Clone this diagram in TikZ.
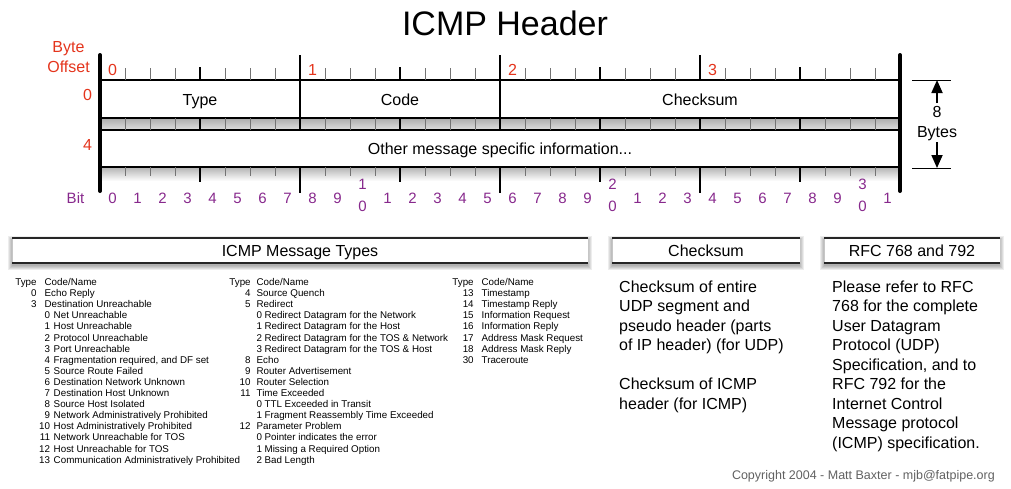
\documentclass[tikz,border=0pt]{standalone}
\usepackage{fontspec}
\setmainfont{Liberation Sans}
\usetikzlibrary{arrows.meta}
\definecolor{offred}{RGB}{228,52,28}
\definecolor{bitpurple}{RGB}{135,40,140}
\newcommand\fsz[2]{\fontsize{#1}{#2}\selectfont}
\newcommand\subA[1]{\makebox[5.5pt][r]{#1}\hspace{3.6pt}}
\newcommand\subB[1]{\makebox[5.45pt][r]{#1}\hspace{2.5pt}}
\begin{document}
\begin{tikzpicture}[x=1pt,y=-1pt,
  lbl/.style={inner sep=0pt, anchor=base},
  redlbl/.style={lbl, text=offred, font=\fsz{16}{20}},
  bitlbl/.style={lbl, text=bitpurple, font=\fsz{15}{18}},
  fieldlbl/.style={lbl, font=\fsz{16}{20}},
  tbl/.style={inner sep=0pt, anchor=base west, font=\fsz{9.8}{11.1}},
  rtext/.style={inner sep=0pt, anchor=base west, font=\fsz{16}{19.5}},
  thintick/.style={line width=0.9pt, draw=black!55},
  nibtick/.style={line width=1.6pt, draw=black},
  bytetick/.style={line width=2.2pt, draw=black},
  rowbox/.style={fill=white, draw=black, line width=1.3pt},
  bar/.style={line width=4pt, line cap=round},
  arr/.style={line width=1.8pt, -{Triangle[length=13pt,width=11pt]}},
  dimline/.style={line width=1pt}]
\useasboundingbox (0,0) rectangle (1011,488);

% title
\node[lbl, font=\fsz{34}{40}] (title) at (505,35) {ICMP Header};

% byte offset labels
\node[redlbl] (byteL) at (68.5,52.5) {Byte};
\node[redlbl] (offsetL) at (68.5,72) {Offset};
\node[redlbl] (off0) at (87.5,100) {0};
\node[redlbl] (off4) at (87.5,150) {4};
\foreach \b in {0,...,3} \node[redlbl] (byte\b) at (112.5+200*\b,75) {\b};

% bands
\shade[top color=gray!65, bottom color=gray!25] (100,118) rectangle (900,130);
\shade[top color=gray!60, bottom color=white] (100,167) rectangle (900,181);

% rows
\draw[rowbox] (100,80) rectangle (900,118);
\draw[rowbox] (100,130) rectangle (900,167);

% ticks
\foreach \i in {1,2,3,5,6,7,9,10,11,13,14,15,17,18,19,21,22,23,25,26,27,29,30,31} {
  \draw[thintick] (100+25*\i,68) -- (100+25*\i,80);
  \draw[thintick] (100+25*\i,118) -- (100+25*\i,130);
  \draw[thintick] (100+25*\i,167) -- (100+25*\i,176);
}
\foreach \i in {4,12,20,28} {
  \draw[nibtick] (100+25*\i,67) -- (100+25*\i,80);
  \draw[nibtick] (100+25*\i,118) -- (100+25*\i,130);
  \draw[nibtick] (100+25*\i,167) -- (100+25*\i,182);
}
\foreach \i in {8,16,24} {
  \draw[bytetick] (100+25*\i,55) -- (100+25*\i,80);
  \draw[bytetick] (100+25*\i,118) -- (100+25*\i,130);
  \draw[bytetick] (100+25*\i,167) -- (100+25*\i,193);
}
% field dividers in row 1
\draw[line width=1.6pt] (300,80) -- (300,118);
\draw[line width=1.6pt] (500,80) -- (500,118);

% bars
\draw[bar] (100,55) -- (100,191);
\draw[bar] (900,55) -- (900,191);

% field labels
\node[fieldlbl] (fType) at (200,105) {Type};
\node[fieldlbl] (fCode) at (400,105) {Code};
\node[fieldlbl] (fChk) at (700,105) {Checksum};
\node[fieldlbl] (fOther) at (500,154.5) {Other message specific information...};

% bit labels
\node[bitlbl] (bitword) at (75.5,203) {Bit};
\foreach \i in {0,...,31} {
  \pgfmathtruncatemacro\d{mod(\i,10)}
  \pgfmathtruncatemacro\t{int(\i/10)}
  \ifnum\d=0 \ifnum\i>0
    \node[bitlbl] (bit\i a) at (112.5+25*\i,189) {\t};
    \node[bitlbl] (bit\i b) at (112.5+25*\i,211) {0};
  \else
    \node[bitlbl] (bit\i) at (112.5+25*\i,203) {\d};
  \fi
  \else
    \node[bitlbl] (bit\i) at (112.5+25*\i,203) {\d};
  \fi
}

% 8 bytes dimension
\coordinate (dimTL) at (912,80);
\coordinate (dimTR) at (951,80);
\coordinate (dimBL) at (912,168);
\coordinate (dimBR) at (951,168);
\coordinate (arrTop) at (937,80);
\coordinate (arrBot) at (937,168);
\draw[dimline] (dimTL) -- (dimTR);
\draw[dimline] (dimBL) -- (dimBR);
\node[fieldlbl] (eight) at (937,117) {8};
\node[fieldlbl] (bytesL) at (937,137) {Bytes};
\draw[arr] ([yshift=2.5pt]eight.north) -- (arrTop);
\draw[arr] ([yshift=-1.5pt]bytesL.south) -- (arrBot);

% header boxes
\foreach \nm/\xa/\xb/\txt in {icmpH/12/588/ICMP Message Types, chkH/612/800/Checksum, rfcH/824/1000/RFC 768 and 792} {
  \foreach \k in {0,...,4}
    \fill[black, opacity=0.07] (\xa-\k,240-\k) rectangle (\xb+\k,266+\k);
  \fill[white] (\xa,238) rectangle (\xb,263);
  \draw[gray!45, line width=0.8pt] (\xa,238) -- (\xa,263) (\xb,238) -- (\xb,263);
  \draw[black!85, line width=2pt] (\xa,238) -- (\xb,238);
  \draw[black!85, line width=2pt] (\xa,263) -- (\xb,263);
  \node[fieldlbl] (\nm) at ({(\xa+\xb)/2},256.5) {\txt};
}

% message type tables
\node[tbl] (col1) at (15.2,285.5) {\begin{tabular}[t]{@{}r@{\hspace{8pt}}l@{}}
Type & Code/Name\\
0 & Echo Reply\\
3 & Destination Unreachable\\
 & \subA{0}Net Unreachable\\
 & \subA{1}Host Unreachable\\
 & \subA{2}Protocol Unreachable\\
 & \subA{3}Port Unreachable\\
 & \subA{4}Fragmentation required, and DF set\\
 & \subA{5}Source Route Failed\\
 & \subA{6}Destination Network Unknown\\
 & \subA{7}Destination Host Unknown\\
 & \subA{8}Source Host Isolated\\
 & \subA{9}Network Administratively Prohibited\\
 & \subA{10}Host Administratively Prohibited\\
 & \subA{11}Network Unreachable for TOS\\
 & \subA{12}Host Unreachable for TOS\\
 & \subA{13}Communication Administratively Prohibited
\end{tabular}};

\node[tbl] (col2) at (229.2,285.5) {\begin{tabular}[t]{@{}r@{\hspace{6pt}}l@{}}
Type & Code/Name\\
4 & Source Quench\\
5 & Redirect\\
 & \subB{0}Redirect Datagram for the Network\\
 & \subB{1}Redirect Datagram for the Host\\
 & \subB{2}Redirect Datagram for the TOS \& Network\\
 & \subB{3}Redirect Datagram for the TOS \& Host\\
8 & Echo\\
9 & Router Advertisement\\
10 & Router Selection\\
11 & Time Exceeded\\
 & \subB{0}TTL Exceeded in Transit\\
 & \subB{1}Fragment Reassembly Time Exceeded\\
12 & Parameter Problem\\
 & \subB{0}Pointer indicates the error\\
 & \subB{1}Missing a Required Option\\
 & \subB{2}Bad Length
\end{tabular}};

\node[tbl] (col3) at (452.2,285.5) {\begin{tabular}[t]{@{}r@{\hspace{8pt}}l@{}}
Type & Code/Name\\
13 & Timestamp\\
14 & Timestamp Reply\\
15 & Information Request\\
16 & Information Reply\\
17 & Address Mask Request\\
18 & Address Mask Reply\\
30 & Traceroute
\end{tabular}};

% right texts
\node[rtext] (chkText) at (619,292) {\begin{tabular}[t]{@{}l@{}}
Checksum of entire\\
UDP segment and\\
pseudo header (parts\\
of IP header) (for UDP)\\
\\
Checksum of ICMP\\
header (for ICMP)
\end{tabular}};

\node[rtext] (rfcText) at (832,292) {\begin{tabular}[t]{@{}l@{}}
Please refer to RFC\\
768 for the complete\\
User Datagram\\
Protocol (UDP)\\
Specification, and to\\
RFC 792 for the\\
Internet Control\\
Message protocol\\
(ICMP) specification.
\end{tabular}};

% copyright
\node[lbl, anchor=base east, text=black!62, font=\fsz{12.5}{15}] (copyright) at (995,479) {Copyright 2004 - Matt Baxter - mjb@fatpipe.org};
\end{tikzpicture}
\end{document}
